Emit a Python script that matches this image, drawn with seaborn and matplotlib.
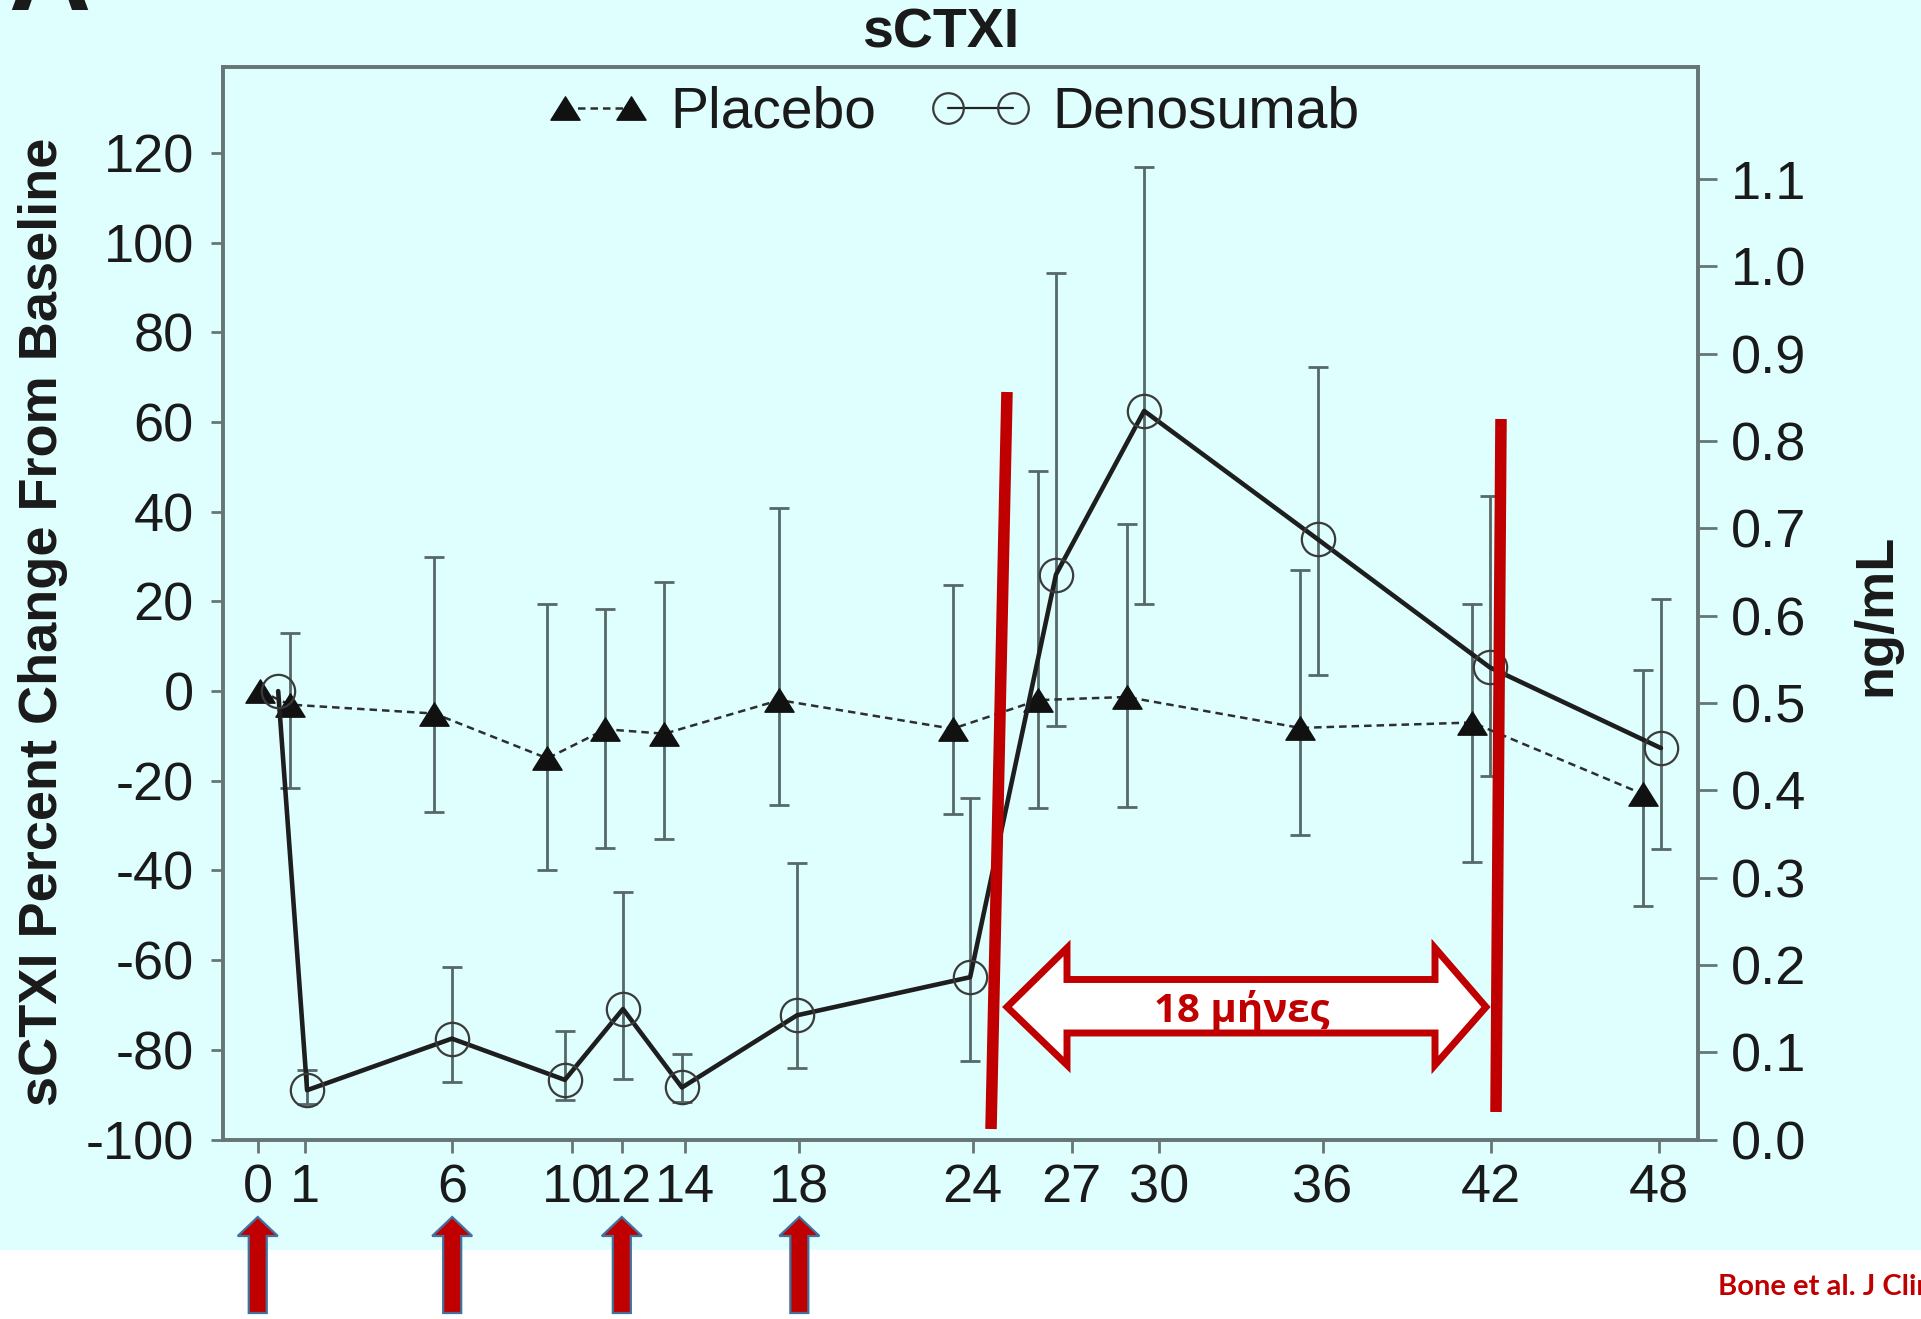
import numpy as np
import pandas as pd
import matplotlib
matplotlib.use("Agg")
import matplotlib.pyplot as plt
from matplotlib.path import Path
from matplotlib.patches import Polygon, Rectangle
from matplotlib.lines import Line2D
import seaborn as sns

# ---------------------------------------------------------------- data
# Visit months printed on the axis and where each label sits on the time scale
month_labels = ["0", "1", "6", "10", "12", "14", "18", "24", "27", "30", "36", "42", "48"]
label_time = [0.0, 1.61, 6.66, 10.76, 12.47, 14.64, 18.55, 24.49, 27.88, 30.88, 36.47, 42.23, 48.0]

# Times at which the group means are plotted (placebo drawn slightly earlier)
visit_time = [0.7, 1.69, 6.65, 10.52, 12.51, 14.53, 18.47, 24.4, 27.34, 30.36, 36.3, 42.2, 48.06]
placebo_shift = 0.6

nan = np.nan
placebo_mean = [0, -3, -5, -15, -8.5, -9.5, -2, -8.4, -2, -1.3, -8.2, -7, -23]
placebo_upper = [nan, 13, 30, 19.5, 18.4, 24.4, 40.8, 23.6, 49.2, 37.3, 27, 19.5, 4.8]
placebo_lower = [nan, -21.5, -26.9, -39.8, -34.9, -33, -25.3, -27.5, -26.1, -25.8, -32.1, -38.1, -48]

deno_mean = [0, -89, -77.5, -86.7, -70.9, -88.4, -72.3, -63.8, 26, 62.5, 33.9, 5.3, -12.7]
deno_upper = [nan, -84.4, -61.5, -75.8, -44.8, -81, -38.4, -23.9, 93.2, 117, 72.4, 43.5, 20.6]
deno_lower = [nan, -92, -87.2, -91.2, -86.4, -91.6, -84, -82.4, -7.8, 19.5, 3.5, -19, -35.1]

left_ticks = list(range(-100, 121, 20))
right_ticks = [0.0, 0.1, 0.2, 0.3, 0.4, 0.5, 0.6, 0.7, 0.8, 0.9, 1.0, 1.1]

dose_months = ["0", "6", "12", "18"]
span_label = "18 μήνες"
citation = "Bone et al. J Clin Endocrinol Metab 2011"

# ---------------------------------------------------------------- style
sns.set_theme(style="ticks")
plt.rcParams["font.family"] = ["Liberation Sans", "DejaVu Sans"]
plt.rcParams["axes.unicode_minus"] = False

BG = "#DFFFFF"
RED = "#C00000"
SPINE = "#667676"
INK = "#1a1a1a"
ERR = "#566868"

W, H, DPI = 1921, 1319, 100
fig = plt.figure(figsize=(W / DPI, H / DPI), dpi=DPI, facecolor="white")


def fx(px):
    return px / W


def fy(py):
    return 1 - py / H


# light cyan panel behind the chart
fig.patches.append(Rectangle((0, fy(1250)), 1, 1 - fy(1250), transform=fig.transFigure,
                             facecolor=BG, edgecolor="none", zorder=-5))

ax = fig.add_axes([fx(223), fy(1139.5), fx(1697.7) - fx(223), fy(67) - fy(1139.5)])
ax.set_facecolor(BG)

tri = Path([(0, 0.8), (-1, -0.8), (1, -0.8), (0, 0.8)],
           [Path.MOVETO, Path.LINETO, Path.LINETO, Path.CLOSEPOLY])

vt = np.array(visit_time)
px_time = vt - placebo_shift
px_time[0] = 0.08

df = pd.DataFrame({
    "placebo_t": px_time, "deno_t": vt,
    "placebo": placebo_mean, "placebo_hi": placebo_upper, "placebo_lo": placebo_lower,
    "deno": deno_mean, "deno_hi": deno_upper, "deno_lo": deno_lower,
})

# error bars
for t, m, hi, lo in [("placebo_t", "placebo", "placebo_hi", "placebo_lo"),
                     ("deno_t", "deno", "deno_hi", "deno_lo")]:
    sub = df.dropna(subset=[hi, lo])
    ax.errorbar(sub[t], sub[m], yerr=[sub[m] - sub[lo], sub[hi] - sub[m]], fmt="none",
                ecolor=ERR, elinewidth=2.0, capsize=7, capthick=2.0, zorder=2)

# group mean lines
sns.lineplot(data=df, x="placebo_t", y="placebo", ax=ax, sort=False, errorbar=None,
             color="#2e2e2e", lw=1.8, linestyle=(0, (3, 2)), marker=tri, ms=21,
             mfc="#111111", mec="#111111", mew=1, legend=False, zorder=3)
sns.lineplot(data=df, x="deno_t", y="deno", ax=ax, sort=False, errorbar=None,
             color="#1e1e1e", lw=3.3, marker="o", ms=24, mfc="none",
             mec="#3a3a3a", mew=1.6, legend=False, zorder=4)

ax.set_xlim(-1.19, 49.32)
ax.set_ylim(-100, 139.2)
ax.set_xticks(label_time)
ax.set_xticklabels(month_labels)
ax.set_yticks(left_ticks)
ax.set_xlabel("")
ax.set_ylabel("")

ax2 = ax.twinx()
ax2.set_ylim(0, 1.2285)
ax2.set_yticks(right_ticks)
ax2.set_yticklabels([f"{v:.1f}" for v in right_ticks])

for a in (ax, ax2):
    for s in a.spines.values():
        s.set_visible(True)
        s.set_color(SPINE)
        s.set_linewidth(2.6)

ax.tick_params(axis="x", direction="out", length=9, width=2, color=SPINE,
               labelcolor=INK, labelsize=39, pad=8)
ax.tick_params(axis="y", direction="out", length=9, width=2, color=SPINE,
               labelcolor=INK, labelsize=39, pad=12, left=True, right=False)
ax2.tick_params(axis="y", direction="out", length=14, width=2, color=SPINE,
                labelcolor=INK, labelsize=39, pad=10)

# titles and axis labels
fig.text(fx(941), fy(34), "sCTXI", ha="center", va="center", fontsize=40,
         fontweight="bold", color=INK)
fig.text(fx(43.5), fy(622), "sCTXI Percent Change From Baseline", rotation=90,
         ha="center", va="center", fontsize=39, fontweight="bold", color=INK)
fig.text(fx(1876), fy(615), "ng/mL", rotation=90, ha="center", va="center",
         fontsize=39, fontweight="bold", color=INK)
fig.text(fx(8), fy(10), "A", ha="left", va="baseline", fontsize=82,
         fontweight="bold", color=INK)

# legend
h_pl = Line2D([], [], color="#2e2e2e", lw=1.8, linestyle=(0, (3, 2)), marker=tri, ms=21,
              mfc="#111111", mec="#111111")
h_de = Line2D([], [], color="#222222", lw=1.6, marker="o", ms=22, mfc="none",
              mec="#3a3a3a", mew=1.6)
fig.legend([h_pl, h_de], ["Placebo", "Denosumab"], loc="center",
           bbox_to_anchor=(fx(954), fy(113)), ncol=2, frameon=False, numpoints=2,
           fontsize=41, handlelength=1.75, handletextpad=0.4, columnspacing=0.95,
           labelcolor=INK)

# red markers of the 18-month interval
fig.add_artist(Line2D([fx(1007), fx(991)], [fy(392), fy(1129)], transform=fig.transFigure,
                      color=RED, lw=8.3, solid_capstyle="butt", zorder=10))
fig.add_artist(Line2D([fx(1501), fx(1496)], [fy(419), fy(1112)], transform=fig.transFigure,
                      color=RED, lw=8.3, solid_capstyle="butt", zorder=10))

arrow_px = [(1007, 1007), (1067, 948), (1067, 979.5), (1435, 979.5), (1435, 948),
            (1486, 1007), (1435, 1065), (1435, 1033), (1067, 1033), (1067, 1065)]
fig.add_artist(Polygon([(fx(x), fy(y)) for x, y in arrow_px], closed=True,
                       transform=fig.transFigure, facecolor="white", edgecolor=RED,
                       lw=5, joinstyle="miter", zorder=11))
fig.text(fx(1242), fy(1022), span_label, ha="center", va="baseline", fontsize=29,
         fontweight="bold", color=RED, family=["Open Sans", "Noto Sans", "DejaVu Sans"],
         zorder=12)

# dosing arrows under the month axis
to_fig = fig.transFigure.inverted()
for m in dose_months:
    t = label_time[month_labels.index(m)]
    xd = ax.transData.transform((t, 0))[0]
    xf = to_fig.transform((xd, 0))[0] * W
    shape = [(xf - 9, 1313), (xf - 9, 1236), (xf - 20, 1236), (xf, 1217),
             (xf + 20, 1236), (xf + 9, 1236), (xf + 9, 1313)]
    fig.add_artist(Polygon([(fx(x), fy(y)) for x, y in shape], closed=True,
                           transform=fig.transFigure, facecolor=RED,
                           edgecolor="#41719C", lw=1.6, zorder=12))

fig.text(fx(1718), fy(1295), citation, ha="left", va="baseline", fontsize=21,
         fontweight="bold", color=RED, family=["Lato", "Open Sans", "DejaVu Sans"])

fig.savefig("out.png", dpi=DPI, facecolor=fig.get_facecolor())
